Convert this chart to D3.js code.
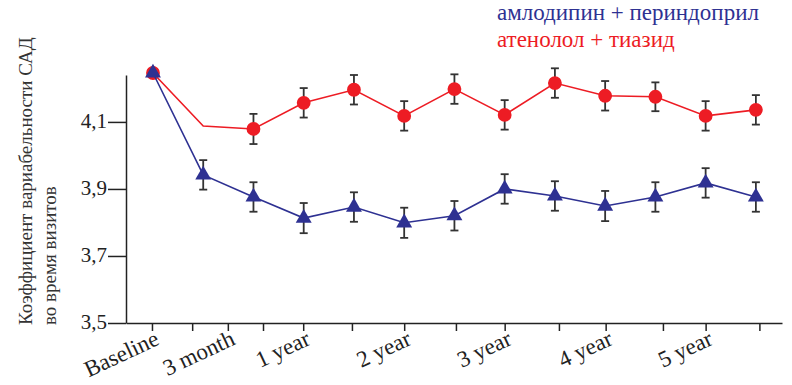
<!DOCTYPE html>
<html><head><meta charset="utf-8">
<script src="https://cdn.jsdelivr.net/npm/d3@7"></script>
<style>body{margin:0;background:#fff}</style>
</head><body>
<svg id="chart" width="792" height="385"></svg>
<script>
// visits, one point per visit
var visits = ["Baseline","3 month","6 month","1 year","18 month","2 year","30 month","3 year","42 month","4 year","54 month","5 year","66 month"];
// амлодипин + периндоприл
var amlo = [4.246,3.942,3.876,3.813,3.846,3.799,3.820,3.900,3.879,3.849,3.876,3.918,3.876];
var amloErr = [0,0.044,0.044,0.045,0.044,0.045,0.044,0.044,0.044,0.045,0.044,0.044,0.044];
// атенолол + тиазид
var aten = [4.246,4.088,4.079,4.157,4.196,4.118,4.198,4.121,4.216,4.178,4.175,4.118,4.136];
var atenErr = [0,0,0.045,0.044,0.044,0.044,0.044,0.044,0.044,0.044,0.043,0.044,0.044];
var atenMark = [1,0,1,1,1,1,1,1,1,1,1,1,1];
// ticks on the x axis (in visit-index units) and their labels
var xTicks = [-0.02,0.78,1.49,2.19,2.99,3.96,5.0,6.03,7.0,8.08,9.01,10.15,11.0,12.07];
var xTickLabels = ["Baseline","","3 month","","1 year","","2 year","","3 year","","4 year","","5 year",""];
var yTicks = [3.5,3.7,3.9,4.1];

var blue="#2e3192", red="#ed1c24", errc="#333";
var font="'Liberation Serif','Times New Roman','DejaVu Serif',serif";

var svg=d3.select("#chart");

var x=d3.scaleLinear().domain([-0.537,12.52]).range([126,782]);
var y=d3.scaleLinear().domain([3.5,4.24]).range([323,75]);

// axes
var xAxis=d3.axisBottom(x).tickValues(xTicks).tickSize(8).tickSizeOuter(0)
  .tickFormat(function(d,i){return xTickLabels[i];});
var gx=svg.append("g").attr("transform","translate(0,323)").call(xAxis);
gx.select(".domain").attr("stroke","#222").attr("stroke-width",1.5);
gx.selectAll(".tick line").attr("stroke","#222").attr("stroke-width",1.5);
gx.selectAll(".tick text")
  .style("font-family",font).style("font-size","23px").attr("fill","#222")
  .attr("text-anchor","end").attr("dy",0).attr("y",0)
  .attr("transform","translate(8,21) rotate(-25)");

var yAxis=d3.axisLeft(y).tickValues(yTicks).tickSize(18).tickPadding(1).tickSizeOuter(0)
  .tickFormat(function(d){return d.toFixed(1).replace(".",",");});
var gy=svg.append("g").attr("transform","translate(126,0)").call(yAxis);
gy.select(".domain").attr("stroke","#222").attr("stroke-width",1.5);
gy.selectAll(".tick line").attr("stroke","#222").attr("stroke-width",1.5);
gy.selectAll(".tick text").style("font-family",font).style("font-size","21px").attr("fill","#222").attr("dy","0.25em");

// y title
var yt=svg.append("text").style("font-family",font).style("font-size","19px").attr("fill","#333")
  .attr("transform","translate(32,325) rotate(-90)");
yt.append("tspan").attr("x",0).attr("y",0).text("Коэффициент вариабельности САД");
yt.append("tspan").attr("x",0).attr("y",24).text("во время визитов");

function series(vals,errs,marks,color,shape){
  var g=svg.append("g");
  var line=d3.line().x(function(d,i){return x(i);}).y(function(d){return y(d);});
  g.append("path").datum(vals).attr("d",line).attr("fill","none").attr("stroke",color).attr("stroke-width",1.6);
  var pts=vals.map(function(v,i){return {i:i,v:v,e:errs[i],m:marks?marks[i]:1};});
  var eb=g.selectAll(".eb").data(pts.filter(function(d){return d.e>0;})).enter().append("g");
  eb.append("line").attr("x1",function(d){return x(d.i);}).attr("x2",function(d){return x(d.i);})
    .attr("y1",function(d){return y(d.v+d.e);}).attr("y2",function(d){return y(d.v-d.e);});
  eb.append("line").attr("x1",function(d){return x(d.i)-4;}).attr("x2",function(d){return x(d.i)+4;})
    .attr("y1",function(d){return y(d.v+d.e);}).attr("y2",function(d){return y(d.v+d.e);});
  eb.append("line").attr("x1",function(d){return x(d.i)-4;}).attr("x2",function(d){return x(d.i)+4;})
    .attr("y1",function(d){return y(d.v-d.e);}).attr("y2",function(d){return y(d.v-d.e);});
  eb.selectAll("line").attr("stroke",errc).attr("stroke-width",1.8);
  var sym=d3.symbol().type(shape).size(shape===d3.symbolCircle?150:110);
  g.selectAll(".mk").data(pts.filter(function(d){return d.m;})).enter().append("path")
    .attr("d",sym).attr("fill",color)
    .attr("transform",function(d){return "translate("+x(d.i)+","+y(d.v)+")";});
}
series(aten,atenErr,atenMark,red,d3.symbolCircle);
series(amlo,amloErr,null,blue,d3.symbolTriangle);

// legend
svg.append("text").attr("x",497).attr("y",20).style("font-family",font).style("font-size","23px").attr("fill",blue).text("амлодипин + периндоприл");
svg.append("text").attr("x",497).attr("y",47).style("font-family",font).style("font-size","23px").attr("fill",red).text("атенолол + тиазид");
</script>
</body></html>
